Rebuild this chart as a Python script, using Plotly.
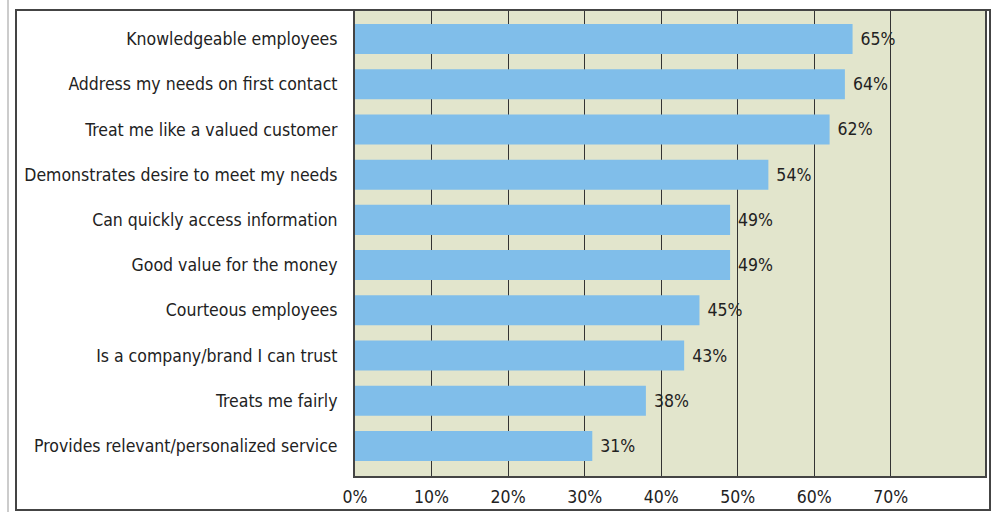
import plotly.graph_objects as go

categories = [
    "Knowledgeable employees",
    "Address my needs on first contact",
    "Treat me like a valued customer",
    "Demonstrates desire to meet my needs",
    "Can quickly access information",
    "Good value for the money",
    "Courteous employees",
    "Is a company/brand I can trust",
    "Treats me fairly",
    "Provides relevant/personalized service",
]
values = [65, 64, 62, 54, 49, 49, 45, 43, 38, 31]
tick_vals = [0, 10, 20, 30, 40, 50, 60, 70]
tick_text = ["0%", "10%", "20%", "30%", "40%", "50%", "60%", "70%"]

FONT = "Liberation Sans Narrow, Arial Narrow, DejaVu Sans Condensed, sans-serif"
FS = 17.5
W, H = 993, 512
L, R, T, B = 355, 8, 11, 36
pw, ph = W - L - R, H - T - B

def px(x):
    return (x - L) / pw

def py(y):
    return 1 - (y - T) / ph

fig = go.Figure(go.Bar(
    y=categories, x=values, orientation="h",
    marker=dict(color="#80BEEA", line=dict(width=0)),
    text=[f" {v}%" for v in values], textposition="outside",
    textfont=dict(family=FONT, size=FS, color="#222222"),
    cliponaxis=False,
))

fig.update_layout(
    width=W, height=H,
    margin=dict(l=L, r=R, t=T, b=B, autoexpand=False),
    paper_bgcolor="white", plot_bgcolor="#E2E5CC",
    bargap=0.335, showlegend=False,
    font=dict(family=FONT, size=FS, color="#222222"),
    xaxis=dict(range=[0, 82.3], tickvals=tick_vals, ticktext=tick_text,
               showgrid=True, gridcolor="#333333", gridwidth=1,
               zeroline=False, showline=True, linecolor="#444444", linewidth=2,
               mirror=True, ticks="", ticklabelstandoff=4, automargin=False,
               tickfont=dict(family=FONT, size=FS, color="#222222")),
    yaxis=dict(categoryorder="array", categoryarray=categories,
               range=[9.665, -0.62], showgrid=False, zeroline=False,
               showline=True, linecolor="#444444", linewidth=2, mirror=True,
               ticks="", ticklabelstandoff=12, automargin=False,
               tickfont=dict(family=FONT, size=FS, color="#222222")),
    shapes=[
        dict(type="rect", xref="paper", yref="paper",
             x0=px(16), x1=px(990), y0=py(510), y1=py(10),
             line=dict(color="#444444", width=2), fillcolor="rgba(0,0,0,0)", layer="above"),
        dict(type="line", xref="paper", yref="paper",
             x0=px(8), x1=px(8), y0=py(512), y1=py(0),
             line=dict(color="#BBBBBB", width=1.5)),
    ],
)

fig.write_html("out.html")
